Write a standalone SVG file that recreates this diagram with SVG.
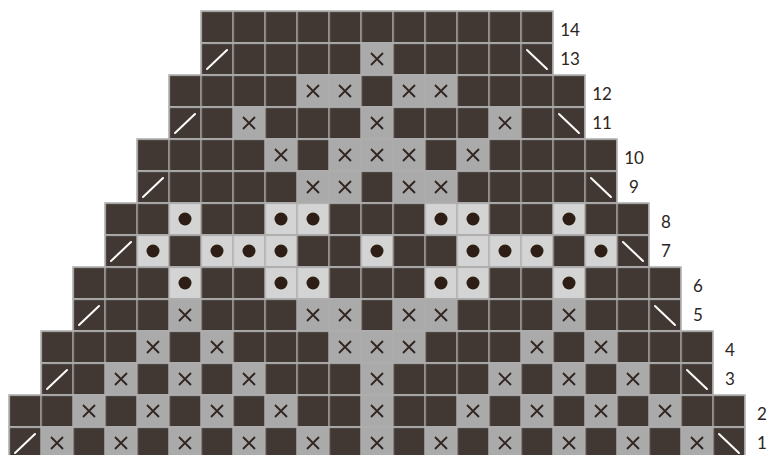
<svg xmlns="http://www.w3.org/2000/svg" xmlns:xlink="http://www.w3.org/1999/xlink" width="770" height="455" viewBox="0 0 770 455">
<style>
.k{fill:#413834}
.g{fill:#aaaaaa}
.l{fill:#d4d4d4}
.grid{fill:url(#grid);stroke:#adadad;stroke-width:1.5}
.n{font-family:Lato,"Liberation Sans",sans-serif;font-size:17px;fill:#2b2522;text-anchor:middle}
</style>
<defs>
<pattern id="grid" patternUnits="userSpaceOnUse" x="8.25" y="10.25" width="32" height="32">
<path d="M0 0h32v1.5H0zM0 0h1.5v32H0z" fill="#adadad"/>
</pattern>
<path id="x" d="M-6-6L6 6M6-6L-6 6" stroke="#2f2520" stroke-width="1.8" fill="none"/>
<circle id="d" r="6.5" fill="#2d1f15"/>
<path id="ls" d="M-10 10L10-9" stroke="#ffffff" stroke-width="2" stroke-linecap="round"/>
<path id="bs" d="M-10-9L10 10" stroke="#ffffff" stroke-width="2" stroke-linecap="round"/>
</defs>
<rect width="770" height="455" fill="#ffffff"/>

<g id="row-14">
<rect class="k" x="201" y="11" width="352" height="32"/>
<rect class="grid" x="201" y="11" width="352" height="32"/>
<text class="n" x="570" y="36">14</text>
</g>

<g id="row-13">
<rect class="k" x="201" y="43" width="352" height="32"/>
<rect class="g" x="361" y="43" width="32" height="32"/>
<rect class="grid" x="201" y="43" width="352" height="32"/>
<use href="#ls" x="217" y="59"/><use href="#x" x="377" y="59"/><use href="#bs" x="537" y="59"/>
<text class="n" x="570" y="65">13</text>
</g>

<g id="row-12">
<rect class="k" x="169" y="75" width="416" height="32"/>
<rect class="g" x="297" y="75" width="32" height="32"/><rect class="g" x="329" y="75" width="32" height="32"/><rect class="g" x="393" y="75" width="32" height="32"/><rect class="g" x="425" y="75" width="32" height="32"/>
<rect class="grid" x="169" y="75" width="416" height="32"/>
<use href="#x" x="313" y="91"/><use href="#x" x="345" y="91"/><use href="#x" x="409" y="91"/><use href="#x" x="441" y="91"/>
<text class="n" x="602" y="100">12</text>
</g>

<g id="row-11">
<rect class="k" x="169" y="107" width="416" height="32"/>
<rect class="g" x="233" y="107" width="32" height="32"/><rect class="g" x="361" y="107" width="32" height="32"/><rect class="g" x="489" y="107" width="32" height="32"/>
<rect class="grid" x="169" y="107" width="416" height="32"/>
<use href="#ls" x="185" y="123"/><use href="#x" x="249" y="123"/><use href="#x" x="377" y="123"/><use href="#x" x="505" y="123"/><use href="#bs" x="569" y="123"/>
<text class="n" x="602" y="129">11</text>
</g>

<g id="row-10">
<rect class="k" x="137" y="139" width="480" height="32"/>
<rect class="g" x="265" y="139" width="32" height="32"/><rect class="g" x="329" y="139" width="32" height="32"/><rect class="g" x="361" y="139" width="32" height="32"/><rect class="g" x="393" y="139" width="32" height="32"/><rect class="g" x="457" y="139" width="32" height="32"/>
<rect class="grid" x="137" y="139" width="480" height="32"/>
<use href="#x" x="281" y="155"/><use href="#x" x="345" y="155"/><use href="#x" x="377" y="155"/><use href="#x" x="409" y="155"/><use href="#x" x="473" y="155"/>
<text class="n" x="634" y="164">10</text>
</g>

<g id="row-9">
<rect class="k" x="137" y="171" width="480" height="32"/>
<rect class="g" x="297" y="171" width="32" height="32"/><rect class="g" x="329" y="171" width="32" height="32"/><rect class="g" x="393" y="171" width="32" height="32"/><rect class="g" x="425" y="171" width="32" height="32"/>
<rect class="grid" x="137" y="171" width="480" height="32"/>
<use href="#ls" x="153" y="187"/><use href="#x" x="313" y="187"/><use href="#x" x="345" y="187"/><use href="#x" x="409" y="187"/><use href="#x" x="441" y="187"/><use href="#bs" x="601" y="187"/>
<text class="n" x="634" y="193">9</text>
</g>

<g id="row-8">
<rect class="k" x="105" y="203" width="544" height="32"/>
<rect class="l" x="169" y="203" width="32" height="32"/><rect class="l" x="265" y="203" width="32" height="32"/><rect class="l" x="297" y="203" width="32" height="32"/><rect class="l" x="425" y="203" width="32" height="32"/><rect class="l" x="457" y="203" width="32" height="32"/><rect class="l" x="553" y="203" width="32" height="32"/>
<rect class="grid" x="105" y="203" width="544" height="32"/>
<use href="#d" x="185" y="219"/><use href="#d" x="281" y="219"/><use href="#d" x="313" y="219"/><use href="#d" x="441" y="219"/><use href="#d" x="473" y="219"/><use href="#d" x="569" y="219"/>
<text class="n" x="666" y="228">8</text>
</g>

<g id="row-7">
<rect class="k" x="105" y="235" width="544" height="32"/>
<rect class="l" x="137" y="235" width="32" height="32"/><rect class="l" x="201" y="235" width="32" height="32"/><rect class="l" x="233" y="235" width="32" height="32"/><rect class="l" x="265" y="235" width="32" height="32"/><rect class="l" x="361" y="235" width="32" height="32"/><rect class="l" x="457" y="235" width="32" height="32"/><rect class="l" x="489" y="235" width="32" height="32"/><rect class="l" x="521" y="235" width="32" height="32"/><rect class="l" x="585" y="235" width="32" height="32"/>
<rect class="grid" x="105" y="235" width="544" height="32"/>
<use href="#ls" x="121" y="251"/><use href="#d" x="153" y="251"/><use href="#d" x="217" y="251"/><use href="#d" x="249" y="251"/><use href="#d" x="281" y="251"/><use href="#d" x="377" y="251"/><use href="#d" x="473" y="251"/><use href="#d" x="505" y="251"/><use href="#d" x="537" y="251"/><use href="#d" x="601" y="251"/><use href="#bs" x="633" y="251"/>
<text class="n" x="666" y="257">7</text>
</g>

<g id="row-6">
<rect class="k" x="73" y="267" width="608" height="32"/>
<rect class="l" x="169" y="267" width="32" height="32"/><rect class="l" x="265" y="267" width="32" height="32"/><rect class="l" x="297" y="267" width="32" height="32"/><rect class="l" x="425" y="267" width="32" height="32"/><rect class="l" x="457" y="267" width="32" height="32"/><rect class="l" x="553" y="267" width="32" height="32"/>
<rect class="grid" x="73" y="267" width="608" height="32"/>
<use href="#d" x="185" y="283"/><use href="#d" x="281" y="283"/><use href="#d" x="313" y="283"/><use href="#d" x="441" y="283"/><use href="#d" x="473" y="283"/><use href="#d" x="569" y="283"/>
<text class="n" x="698" y="292">6</text>
</g>

<g id="row-5">
<rect class="k" x="73" y="299" width="608" height="32"/>
<rect class="g" x="169" y="299" width="32" height="32"/><rect class="g" x="297" y="299" width="32" height="32"/><rect class="g" x="329" y="299" width="32" height="32"/><rect class="g" x="393" y="299" width="32" height="32"/><rect class="g" x="425" y="299" width="32" height="32"/><rect class="g" x="553" y="299" width="32" height="32"/>
<rect class="grid" x="73" y="299" width="608" height="32"/>
<use href="#ls" x="89" y="315"/><use href="#x" x="185" y="315"/><use href="#x" x="313" y="315"/><use href="#x" x="345" y="315"/><use href="#x" x="409" y="315"/><use href="#x" x="441" y="315"/><use href="#x" x="569" y="315"/><use href="#bs" x="665" y="315"/>
<text class="n" x="698" y="321">5</text>
</g>

<g id="row-4">
<rect class="k" x="41" y="331" width="672" height="32"/>
<rect class="g" x="137" y="331" width="32" height="32"/><rect class="g" x="201" y="331" width="32" height="32"/><rect class="g" x="329" y="331" width="32" height="32"/><rect class="g" x="361" y="331" width="32" height="32"/><rect class="g" x="393" y="331" width="32" height="32"/><rect class="g" x="521" y="331" width="32" height="32"/><rect class="g" x="585" y="331" width="32" height="32"/>
<rect class="grid" x="41" y="331" width="672" height="32"/>
<use href="#x" x="153" y="347"/><use href="#x" x="217" y="347"/><use href="#x" x="345" y="347"/><use href="#x" x="377" y="347"/><use href="#x" x="409" y="347"/><use href="#x" x="537" y="347"/><use href="#x" x="601" y="347"/>
<text class="n" x="730" y="356">4</text>
</g>

<g id="row-3">
<rect class="k" x="41" y="363" width="672" height="32"/>
<rect class="g" x="105" y="363" width="32" height="32"/><rect class="g" x="169" y="363" width="32" height="32"/><rect class="g" x="233" y="363" width="32" height="32"/><rect class="g" x="361" y="363" width="32" height="32"/><rect class="g" x="489" y="363" width="32" height="32"/><rect class="g" x="553" y="363" width="32" height="32"/><rect class="g" x="617" y="363" width="32" height="32"/>
<rect class="grid" x="41" y="363" width="672" height="32"/>
<use href="#ls" x="57" y="379"/><use href="#x" x="121" y="379"/><use href="#x" x="185" y="379"/><use href="#x" x="249" y="379"/><use href="#x" x="377" y="379"/><use href="#x" x="505" y="379"/><use href="#x" x="569" y="379"/><use href="#x" x="633" y="379"/><use href="#bs" x="697" y="379"/>
<text class="n" x="730" y="385">3</text>
</g>

<g id="row-2">
<rect class="k" x="9" y="395" width="736" height="32"/>
<rect class="g" x="73" y="395" width="32" height="32"/><rect class="g" x="137" y="395" width="32" height="32"/><rect class="g" x="201" y="395" width="32" height="32"/><rect class="g" x="265" y="395" width="32" height="32"/><rect class="g" x="361" y="395" width="32" height="32"/><rect class="g" x="457" y="395" width="32" height="32"/><rect class="g" x="521" y="395" width="32" height="32"/><rect class="g" x="585" y="395" width="32" height="32"/><rect class="g" x="649" y="395" width="32" height="32"/>
<rect class="grid" x="9" y="395" width="736" height="32"/>
<use href="#x" x="89" y="411"/><use href="#x" x="153" y="411"/><use href="#x" x="217" y="411"/><use href="#x" x="281" y="411"/><use href="#x" x="377" y="411"/><use href="#x" x="473" y="411"/><use href="#x" x="537" y="411"/><use href="#x" x="601" y="411"/><use href="#x" x="665" y="411"/>
<text class="n" x="762" y="420">2</text>
</g>

<g id="row-1">
<rect class="k" x="9" y="427" width="736" height="32"/>
<rect class="g" x="41" y="427" width="32" height="32"/><rect class="g" x="105" y="427" width="32" height="32"/><rect class="g" x="169" y="427" width="32" height="32"/><rect class="g" x="233" y="427" width="32" height="32"/><rect class="g" x="297" y="427" width="32" height="32"/><rect class="g" x="361" y="427" width="32" height="32"/><rect class="g" x="425" y="427" width="32" height="32"/><rect class="g" x="489" y="427" width="32" height="32"/><rect class="g" x="553" y="427" width="32" height="32"/><rect class="g" x="617" y="427" width="32" height="32"/><rect class="g" x="681" y="427" width="32" height="32"/>
<rect class="grid" x="9" y="427" width="736" height="32"/>
<use href="#ls" x="25" y="443"/><use href="#x" x="57" y="443"/><use href="#x" x="121" y="443"/><use href="#x" x="185" y="443"/><use href="#x" x="249" y="443"/><use href="#x" x="313" y="443"/><use href="#x" x="377" y="443"/><use href="#x" x="441" y="443"/><use href="#x" x="505" y="443"/><use href="#x" x="569" y="443"/><use href="#x" x="633" y="443"/><use href="#x" x="697" y="443"/><use href="#bs" x="729" y="443"/>
<text class="n" x="762" y="449">1</text>
</g>
</svg>
